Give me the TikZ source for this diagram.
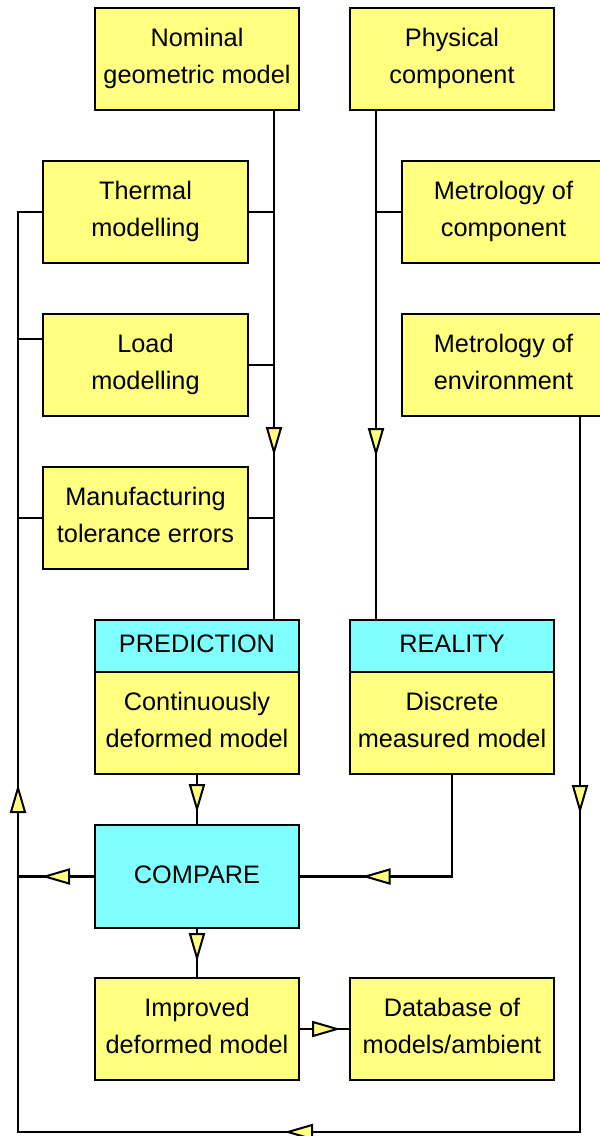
\documentclass[tikz,border=0pt]{standalone}
\usepackage{fontspec}
\setmainfont{Liberation Sans}
\usetikzlibrary{decorations.markings,calc}
\definecolor{boxyellow}{RGB}{255,255,128}
\definecolor{boxcyan}{RGB}{128,255,255}

\begin{document}
\begin{tikzpicture}[x=1pt,y=-1pt,
  box/.style={draw, line width=2.6pt, fill=boxyellow, outer sep=0pt,
    minimum width=204pt, minimum height=102pt, inner sep=0pt,
    align=center, font=\fontsize{25.3}{37.5}\selectfont,
    execute at begin node=\rule{0pt}{20pt},
    execute at end node=\rule[-6.5pt]{0pt}{6.5pt}},
  headbox/.style={box, fill=boxcyan, minimum height=52pt},
  conn/.style={draw, line width=2.6pt},
  % yellow triangular flow marker whose tip sits #1 along the path
  flow at/.style={postaction={decorate,decoration={markings,
    mark=at position #1 with {\draw[line width=2pt, fill=boxyellow, line join=miter]
      (0,0) -- (-24,7) -- (-24,-7) -- cycle;}}}}
]
\useasboundingbox (0,0) rectangle (600,1136);

% prediction side
\node[box] (nom)   at (197,59)    {Nominal\\geometric model};
\node[box, minimum width=205pt] (therm) at (145.5,212) {Thermal\\modelling};
\node[box, minimum width=205pt] (load)  at (145.5,365) {Load\\modelling};
\node[box, minimum width=205pt] (manu)  at (145.5,518) {Manufacturing\\tolerance errors};
\node[box] (predb) at (197,723) {Continuously\\deformed model};
\node[headbox, anchor=south] (predh) at (predb.north) {PREDICTION};

% reality side
\node[box] (phys)  at (452,59)    {Physical\\component};
\node[box, minimum width=203pt] (mcomp) at (503.5,212) {Metrology of\\component};
\node[box, minimum width=203pt] (menv)  at (503.5,365) {Metrology of\\environment};
\node[box] (realb) at (452,723) {Discrete\\measured model};
\node[headbox, anchor=south] (realh) at (realb.north) {REALITY};

% comparison and results
\node[headbox, minimum height=103pt] (comp) at (197,876.5) {COMPARE};
\node[box] (impr) at (197,1029) {Improved\\deformed model};
\node[box] (db)   at (452,1029) {Database of\\models/ambient};

\coordinate (floor) at (0,1132);
\coordinate (spine) at (18,0);

% nominal model plus modelling inputs feed the prediction
\draw[conn, flow at=342pt] ([xshift=-25pt]nom.south east) coordinate (nx) -- (nx |- predh.north);
\draw[conn] (therm.east) -- (therm.east -| nx);
\draw[conn] (load.east) -- (load.east -| nx);
\draw[conn] (manu.east) -- (manu.east -| nx);

% physical component plus its metrology feed reality
\draw[conn, flow at=343pt] ([xshift=26pt]phys.south west) coordinate (px) -- (px |- realh.north);
\draw[conn] (mcomp.west) -- (mcomp.west -| px);

% environment metrology loops round to the modelling inputs
\draw[conn, flow at=394pt, flow at=1008pt, flow at=1622pt]
  ([xshift=178pt]menv.south west) coordinate (ex) -- (ex |- floor)
  -- (spine |- floor) -- (spine |- therm.west) -- (therm.west);
\draw[conn] ([yshift=-25pt]load.north west) coordinate (lw) -- (spine |- lw);
\draw[conn] (manu.west) -- (spine |- manu.west);

% comparison
\draw[conn, flow at=35pt] (predb.south) -- (comp.north);
\draw[conn, flow at=189pt] (realb.south) -- (realb.south |- comp.east) -- (comp.east);
\draw[conn, flow at=50pt] (comp.west) -- (spine |- comp.west);
\draw[conn, flow at=30pt] (comp.south) -- (impr.north);
\draw[conn, flow at=38pt] (impr.east) -- (db.west);
\end{tikzpicture}
\end{document}
